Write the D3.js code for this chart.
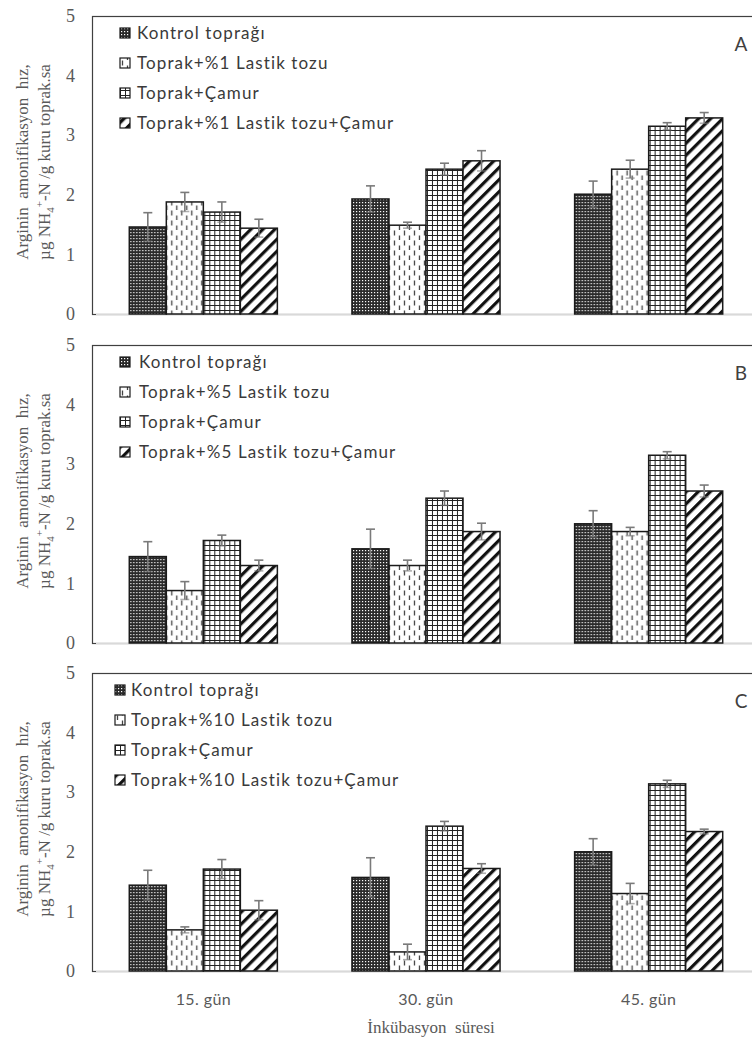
<!DOCTYPE html>
<html>
<head>
<meta charset="utf-8">
<script src="https://cdn.jsdelivr.net/npm/d3@7/dist/d3.min.js"></script>
<style>
  html, body { margin: 0; padding: 0; background: #fff; }
  svg { display: block; }
</style>
</head>
<body>
<svg id="chart" width="752" height="1043"></svg>
<script>
// Incubation periods
const categories = ["15. gün", "30. gün", "45. gün"];
const yTicks = [0, 1, 2, 3, 4, 5];

// Panel A: %1 tyre dust
const namesA = ["Kontrol toprağı", "Toprak+%1 Lastik tozu", "Toprak+Çamur", "Toprak+%1 Lastik tozu+Çamur"];
const valuesA = [
  [1.46, 1.93, 2.01],
  [1.88, 1.49, 2.43],
  [1.71, 2.43, 3.15],
  [1.44, 2.57, 3.29]
];
const errorsA = [
  [0.24, 0.22, 0.22],
  [0.16, 0.05, 0.15],
  [0.17, 0.10, 0.06],
  [0.15, 0.17, 0.09]
];

// Panel B: %5 tyre dust
const namesB = ["Kontrol toprağı", "Toprak+%5 Lastik tozu", "Toprak+Çamur", "Toprak+%5 Lastik tozu+Çamur"];
const valuesB = [
  [1.45, 1.58, 2.00],
  [0.88, 1.30, 1.87],
  [1.72, 2.43, 3.15],
  [1.30, 1.87, 2.55]
];
const errorsB = [
  [0.25, 0.33, 0.22],
  [0.15, 0.09, 0.07],
  [0.09, 0.12, 0.06],
  [0.09, 0.14, 0.10]
];

// Panel C: %10 tyre dust
const namesC = ["Kontrol toprağı", "Toprak+%10 Lastik tozu", "Toprak+Çamur", "Toprak+%10 Lastik tozu+Çamur"];
const valuesC = [
  [1.44, 1.57, 2.00],
  [0.69, 0.32, 1.30],
  [1.71, 2.43, 3.14],
  [1.02, 1.72, 2.34]
];
const errorsC = [
  [0.25, 0.33, 0.22],
  [0.05, 0.13, 0.17],
  [0.16, 0.08, 0.06],
  [0.16, 0.08, 0.04]
];

const panelLetters = ["A", "B", "C"];

const svg = d3.select("#chart");
const defs = svg.append("defs");

// ---- fill patterns ----
// dark dotted
const pDots = defs.append("pattern").attr("id", "pat0")
  .attr("patternUnits", "userSpaceOnUse").attr("width", 3).attr("height", 3);
pDots.append("rect").attr("width", 3).attr("height", 3).attr("fill", "#2a2a2a");
pDots.append("rect").attr("x", 1).attr("y", 1).attr("width", 1.2).attr("height", 1.2).attr("fill", "#ffffff");

// vertical dashes
const pDash = defs.append("pattern").attr("id", "pat1")
  .attr("patternUnits", "userSpaceOnUse").attr("width", 10).attr("height", 10);
pDash.append("rect").attr("width", 10).attr("height", 10).attr("fill", "#fff");
pDash.append("line").attr("x1", 2.5).attr("x2", 2.5).attr("y1", 0.5).attr("y2", 5.5)
  .attr("stroke", "#444").attr("stroke-width", 1.3);
pDash.append("line").attr("x1", 7.5).attr("x2", 7.5).attr("y1", 5.5).attr("y2", 10.5)
  .attr("stroke", "#444").attr("stroke-width", 1.3);

// grid
const pGrid = defs.append("pattern").attr("id", "pat2")
  .attr("patternUnits", "userSpaceOnUse").attr("width", 5).attr("height", 5);
pGrid.append("rect").attr("width", 5).attr("height", 5).attr("fill", "#fff");
pGrid.append("path").attr("d", "M0.5,0 V5 M0,0.5 H5")
  .attr("stroke", "#222").attr("stroke-width", 1);

// wide upward diagonal
const pDiag = defs.append("pattern").attr("id", "pat3")
  .attr("patternUnits", "userSpaceOnUse").attr("width", 8.5).attr("height", 8.5)
  .attr("patternTransform", "rotate(45)");
pDiag.append("rect").attr("width", 8.5).attr("height", 8.5).attr("fill", "#fff");
pDiag.append("rect").attr("width", 3.2).attr("height", 8.5).attr("fill", "#111");

const fills = ["url(#pat0)", "url(#pat1)", "url(#pat2)", "url(#pat3)"];

// ---- layout ----
const plotLeft = 92, plotRight = 760;
const panels = [
  { top: 16, bottom: 314, names: namesA, values: valuesA, errors: errorsA, legendX: 120, textX: 137 },
  { top: 345, bottom: 643, names: namesB, values: valuesB, errors: errorsB, legendX: 120, textX: 139 },
  { top: 673, bottom: 971, names: namesC, values: valuesC, errors: errorsC, legendX: 115, textX: 131 }
];

const x0 = d3.scaleBand().domain(categories).range([plotLeft, plotRight])
  .paddingInner(0.335).paddingOuter(0.1675);
const x1 = d3.scaleBand().domain(d3.range(4)).range([0, x0.bandwidth()]);

const serif = "'Liberation Serif', 'Times New Roman', serif";
const sans = "Lato, 'Open Sans', sans-serif";

panels.forEach((p, pi) => {
  const y = d3.scaleLinear().domain([0, 5]).range([p.bottom, p.top]);
  const g = svg.append("g");

  // plot frame
  g.append("rect")
    .attr("x", plotLeft + 0.5).attr("y", p.top + 0.5)
    .attr("width", 800).attr("height", p.bottom - p.top)
    .attr("fill", "none").attr("stroke", "#404040").attr("stroke-width", 1.2);

  // y axis labels
  const yAxis = g.append("g").attr("transform", `translate(${plotLeft - 14},0)`)
    .call(d3.axisLeft(y).tickValues(yTicks).tickSize(0).tickFormat(d3.format("d")));
  yAxis.select(".domain").remove();
  yAxis.selectAll("text")
    .attr("font-family", serif).attr("font-size", 18).attr("fill", "#595959");

  // horizontal axis baseline
  g.append("line")
    .attr("x1", plotLeft + 4).attr("x2", 752)
    .attr("y1", p.bottom + 0.5).attr("y2", p.bottom + 0.5)
    .attr("stroke", "#d9d9d9").attr("stroke-width", 1.5);

  // y title
  const cy = p.top + 146;
  g.append("text")
    .attr("transform", `translate(28,${cy}) rotate(-90)`)
    .attr("text-anchor", "middle")
    .attr("font-family", serif).attr("font-size", 17).attr("fill", "#595959")
    .attr("xml:space", "preserve")
    .text("Arginin  amonifikasyon  hız,");
  const t2 = g.append("text")
    .attr("transform", `translate(50,${cy}) rotate(-90)`)
    .attr("text-anchor", "middle")
    .attr("font-family", serif).attr("font-size", 17).attr("fill", "#595959");
  t2.append("tspan").text("µg NH");
  t2.append("tspan").attr("font-size", 11).attr("dy", 4).text("4");
  t2.append("tspan").attr("font-size", 11).attr("dy", -11).text("+");
  t2.append("tspan").attr("dy", 7).text("-N /g kuru toprak.sa");

  // bars
  const groups = g.selectAll("g.grp").data(categories).join("g")
    .attr("class", "grp")
    .attr("transform", d => `translate(${x0(d)},0)`);

  groups.each(function (cat, ci) {
    const gg = d3.select(this);
    const rows = p.values.map((vals, si) => ({ si, v: vals[ci], e: p.errors[si][ci] }));
    gg.selectAll("rect.bar").data(rows).join("rect")
      .attr("class", "bar")
      .attr("x", d => x1(d.si))
      .attr("y", d => y(d.v))
      .attr("width", x1.bandwidth())
      .attr("height", d => y(0) - y(d.v))
      .attr("fill", d => fills[d.si])
      .attr("stroke", "#1a1a1a").attr("stroke-width", 1.5);

    // error bars
    const eb = gg.selectAll("g.err").data(rows).join("g").attr("class", "err")
      .attr("stroke", "#7a7a7a").attr("stroke-width", 1.6);
    eb.append("line")
      .attr("x1", d => x1(d.si) + x1.bandwidth() / 2)
      .attr("x2", d => x1(d.si) + x1.bandwidth() / 2)
      .attr("y1", d => y(d.v + d.e)).attr("y2", d => y(d.v - d.e));
    eb.append("line")
      .attr("x1", d => x1(d.si) + x1.bandwidth() / 2 - 4.5)
      .attr("x2", d => x1(d.si) + x1.bandwidth() / 2 + 4.5)
      .attr("y1", d => y(d.v + d.e)).attr("y2", d => y(d.v + d.e));
    eb.append("line")
      .attr("x1", d => x1(d.si) + x1.bandwidth() / 2 - 4.5)
      .attr("x2", d => x1(d.si) + x1.bandwidth() / 2 + 4.5)
      .attr("y1", d => y(d.v - d.e)).attr("y2", d => y(d.v - d.e))
      .attr("stroke-opacity", 0.6);
  });

  // legend
  const lg = g.append("g");
  p.names.forEach((name, si) => {
    const ly = p.top + 17 + si * 30;
    lg.append("rect")
      .attr("x", p.legendX).attr("y", ly - 5)
      .attr("width", 10).attr("height", 10)
      .attr("fill", fills[si]).attr("stroke", "#1a1a1a").attr("stroke-width", 1.2);
    lg.append("text")
      .attr("x", p.textX).attr("y", ly)
      .attr("dy", "0.35em")
      .attr("font-family", sans).attr("font-size", 17).attr("fill", "#3a3a3a")
      .attr("letter-spacing", 1.1)
      .text(name);
  });

  // panel letter
  g.append("text")
    .attr("x", 741).attr("y", p.top + 28)
    .attr("dy", "0.35em").attr("text-anchor", "middle")
    .attr("font-family", sans).attr("font-size", 19).attr("fill", "#404040")
    .text(panelLetters[pi]);

  // category labels under the last panel
  if (pi === panels.length - 1) {
    const xa = g.append("g").attr("transform", `translate(0,${p.bottom + 20})`)
      .call(d3.axisBottom(x0).tickSize(0));
    xa.select(".domain").remove();
    xa.selectAll("text")
      .attr("font-family", sans).attr("font-size", 16).attr("fill", "#595959")
      .attr("letter-spacing", 0.4);
    g.append("text")
      .attr("x", 431).attr("y", 1033)
      .attr("text-anchor", "middle")
      .attr("font-family", serif).attr("font-size", 17).attr("fill", "#595959")
      .attr("xml:space", "preserve")
      .text("İnkübasyon  süresi");
  }
});
</script>
</body>
</html>
